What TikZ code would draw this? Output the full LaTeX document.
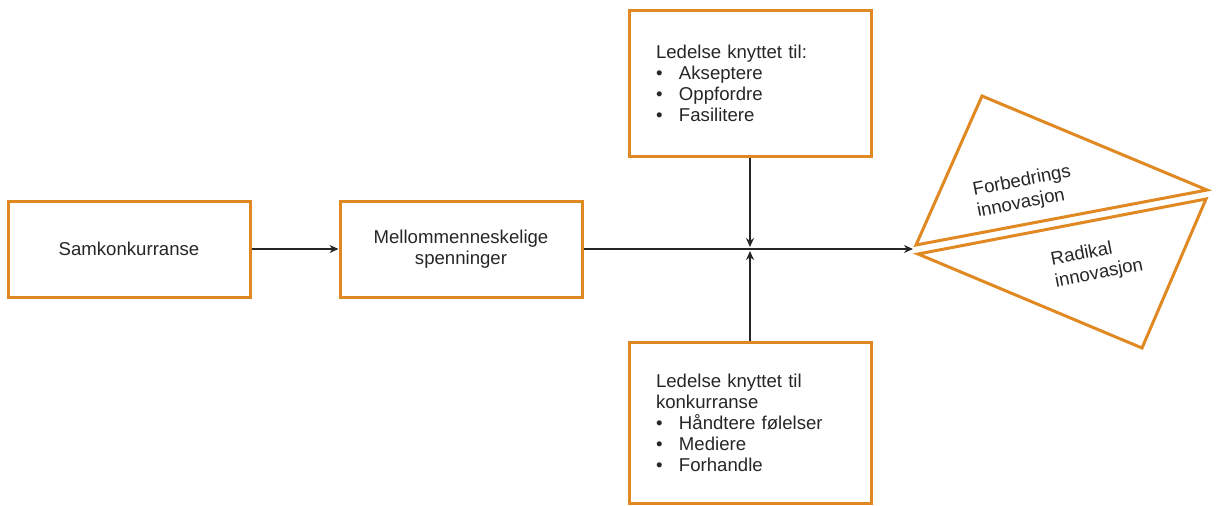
\documentclass[tikz,border=0pt]{standalone}
\usepackage{fontspec}
\setmainfont{Liberation Sans}
\usetikzlibrary{arrows.meta}
\definecolor{boxorange}{RGB}{224,137,34}
\newcommand{\bpoint}{\makebox[11.5pt][l]{\textbullet}}
\begin{document}
\begin{tikzpicture}[x=0.5pt, y=-0.5pt, font=\fontsize{9.3}{10.5}\selectfont, text=black!85,
  box/.style={draw=boxorange, line width=1.5pt, minimum width=121pt, minimum height=48pt, align=center, inner sep=0pt},
  listbox/.style={box, text width=94pt, align=left, inner xsep=13.5pt},
  conn/.style={-{Stealth[length=4.5pt,width=4pt]}, line width=0.7pt, draw=black!85},
  tri/.style={draw=boxorange, line width=1.5pt},
  tritext/.style={rotate=11, align=left, inner sep=0pt, font=\fontsize{9.3}{11}\selectfont}]
\useasboundingbox (0,0) rectangle (1216,505);
\node[box] (sam) at (129,249) {Samkonkurranse};
\node[box] (mel) at (461,249) {Mellommenneskelige\\spenninger};
\node[listbox, minimum height=73pt] (lead) at (750,83) {Ledelse knyttet til:\\\bpoint Akseptere\\\bpoint Oppfordre\\\bpoint Fasilitere};
\node[listbox, minimum height=80.5pt] (konk) at (750,422.5) {Ledelse knyttet til\\konkurranse\\\bpoint Håndtere følelser\\\bpoint Mediere\\\bpoint Forhandle};
% triangles
\coordinate (fl) at (916,245);
\coordinate (ft) at (982,96);
\coordinate (fr) at (1207,190);
\coordinate (rl) at (918,254);
\coordinate (rr) at (1206,199);
\coordinate (rb) at (1142,348);
\draw[tri] (fl) -- (ft) -- (fr) -- cycle;
\draw[tri] (rl) -- (rr) -- (rb) -- cycle;
\node[tritext] (forb) at (1024,192) {Forbedrings\\innovasjon};
\node[tritext] (radi) at (1097,263) {Radikal\\innovasjon};
% arrows
\coordinate (tip) at (913,249);
\coordinate (jtop) at (750,247);
\coordinate (jbot) at (750,251);
\draw[conn] (sam) -- (mel);
\draw[conn] (mel) -- (tip);
\draw[conn] (lead.south) -- (jtop);
\draw[conn] (konk.north) -- (jbot);
\end{tikzpicture}
\end{document}
